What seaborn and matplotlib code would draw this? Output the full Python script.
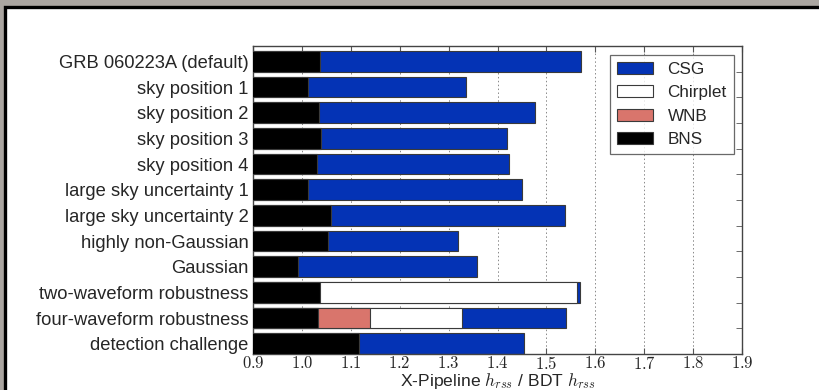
import numpy as np
import pandas as pd
import matplotlib
matplotlib.use("Agg")
import matplotlib.pyplot as plt
from matplotlib.patches import Rectangle, Patch
from matplotlib.ticker import FixedLocator
import seaborn as sns

# Search configurations, top to bottom
configs = [
    "GRB 060223A (default)",
    "sky position 1",
    "sky position 2",
    "sky position 3",
    "sky position 4",
    "large sky uncertainty 1",
    "large sky uncertainty 2",
    "highly non-Gaussian",
    "Gaussian",
    "two-waveform robustness",
    "four-waveform robustness",
    "detection challenge",
]

# Sensitivity ratio per waveform family (NaN where the family was not tested)
csg      = [1.571, 1.335, 1.477, 1.420, 1.424, 1.451, 1.538, 1.319, 1.358, 1.569, 1.540, 1.454]
chirplet = [np.nan, np.nan, np.nan, np.nan, np.nan, np.nan, np.nan, np.nan, np.nan, 1.562, 1.328, np.nan]
wnb      = [np.nan, np.nan, np.nan, np.nan, np.nan, np.nan, np.nan, np.nan, np.nan, np.nan, 1.140, np.nan]
bns      = [1.038, 1.013, 1.035, 1.040, 1.031, 1.013, 1.059, 1.054, 0.992, 1.038, 1.032, 1.117]

x_ticks = [0.9, 1.0, 1.1, 1.2, 1.3, 1.4, 1.5, 1.6, 1.7, 1.8, 1.9]

colors = {"CSG": "#0433b5", "Chirplet": "#ffffff", "WNB": "#d9756c", "BNS": "#000000"}

sns.set_style("white")
plt.rcParams["font.family"] = ["Liberation Sans", "DejaVu Sans"]
plt.rcParams["mathtext.fontset"] = "cm"

df = pd.DataFrame({"config": configs, "CSG": csg, "Chirplet": chirplet,
                   "WNB": wnb, "BNS": bns})

fig = plt.figure(figsize=(8.19, 3.90), dpi=100)
fig.patch.set_facecolor("#aba6a1")
# white slide panel with a dark frame
panel = Rectangle((5.0 / 819, -0.05), 1.2, 1 - 6.5 / 390 + 0.05,
                  transform=fig.transFigure, facecolor="white",
                  edgecolor="black", linewidth=2.4, zorder=-5)
fig.add_artist(panel)

ax = fig.add_axes([253 / 819, 1 - 354 / 390, 489 / 819, 308 / 390])
ax.set_zorder(1)

# layered bars: longest family first, shorter ones drawn over it
for z, fam in enumerate(["CSG", "Chirplet", "WNB", "BNS"]):
    sns.barplot(data=df, x=fam, y="config", orient="h", ax=ax,
                color=colors[fam], saturation=1, width=0.8,
                edgecolor="#3a3a3a", linewidth=0.8, zorder=2 + z)

ax.set_xlim(0.9, 1.9)
ax.set_ylim(11.4, -0.6)

ax.xaxis.set_major_locator(FixedLocator(x_ticks))
ax.set_xticklabels([f"${v:.1f}$" for v in x_ticks], fontsize=12)
ax.tick_params(axis="x", direction="in", length=4, top=True, bottom=True,
               color="#555555", pad=1.0)
ax.tick_params(axis="y", which="major", length=0, labelsize=13.2, pad=3)
ax.yaxis.set_minor_locator(FixedLocator([i + 0.4 for i in range(11)]))
ax.tick_params(axis="y", which="minor", direction="in", length=4,
               left=True, right=True, color="#555555")

ax.grid(axis="x", linestyle=(0, (1.5, 2.5)), color="#888888", linewidth=0.7, zorder=1)
ax.set_axisbelow(True)
for s in ax.spines.values():
    s.set_color("#444444")
    s.set_linewidth(1.0)

ax.set_ylabel("")
ax.set_xlabel(r"X-Pipeline $h_{rss}$ / BDT $h_{rss}$", fontsize=12.6, labelpad=-1.0)

handles = [Patch(facecolor=colors[f], edgecolor="#3a3a3a", linewidth=0.8, label=f)
           for f in ["CSG", "Chirplet", "WNB", "BNS"]]
leg = ax.legend(handles=handles, loc="upper right",
                bbox_to_anchor=((734 - 253) / 489, 1 - 9 / 308), borderaxespad=0,
                fontsize=12.3, frameon=True, fancybox=False, edgecolor="#444444",
                borderpad=0.42, labelspacing=0.48, handlelength=2.1, handleheight=0.7,
                handletextpad=0.85)
leg.get_frame().set_linewidth(0.9)
leg.set_zorder(10)

fig.savefig("out.png", dpi=100, facecolor=fig.get_facecolor())
